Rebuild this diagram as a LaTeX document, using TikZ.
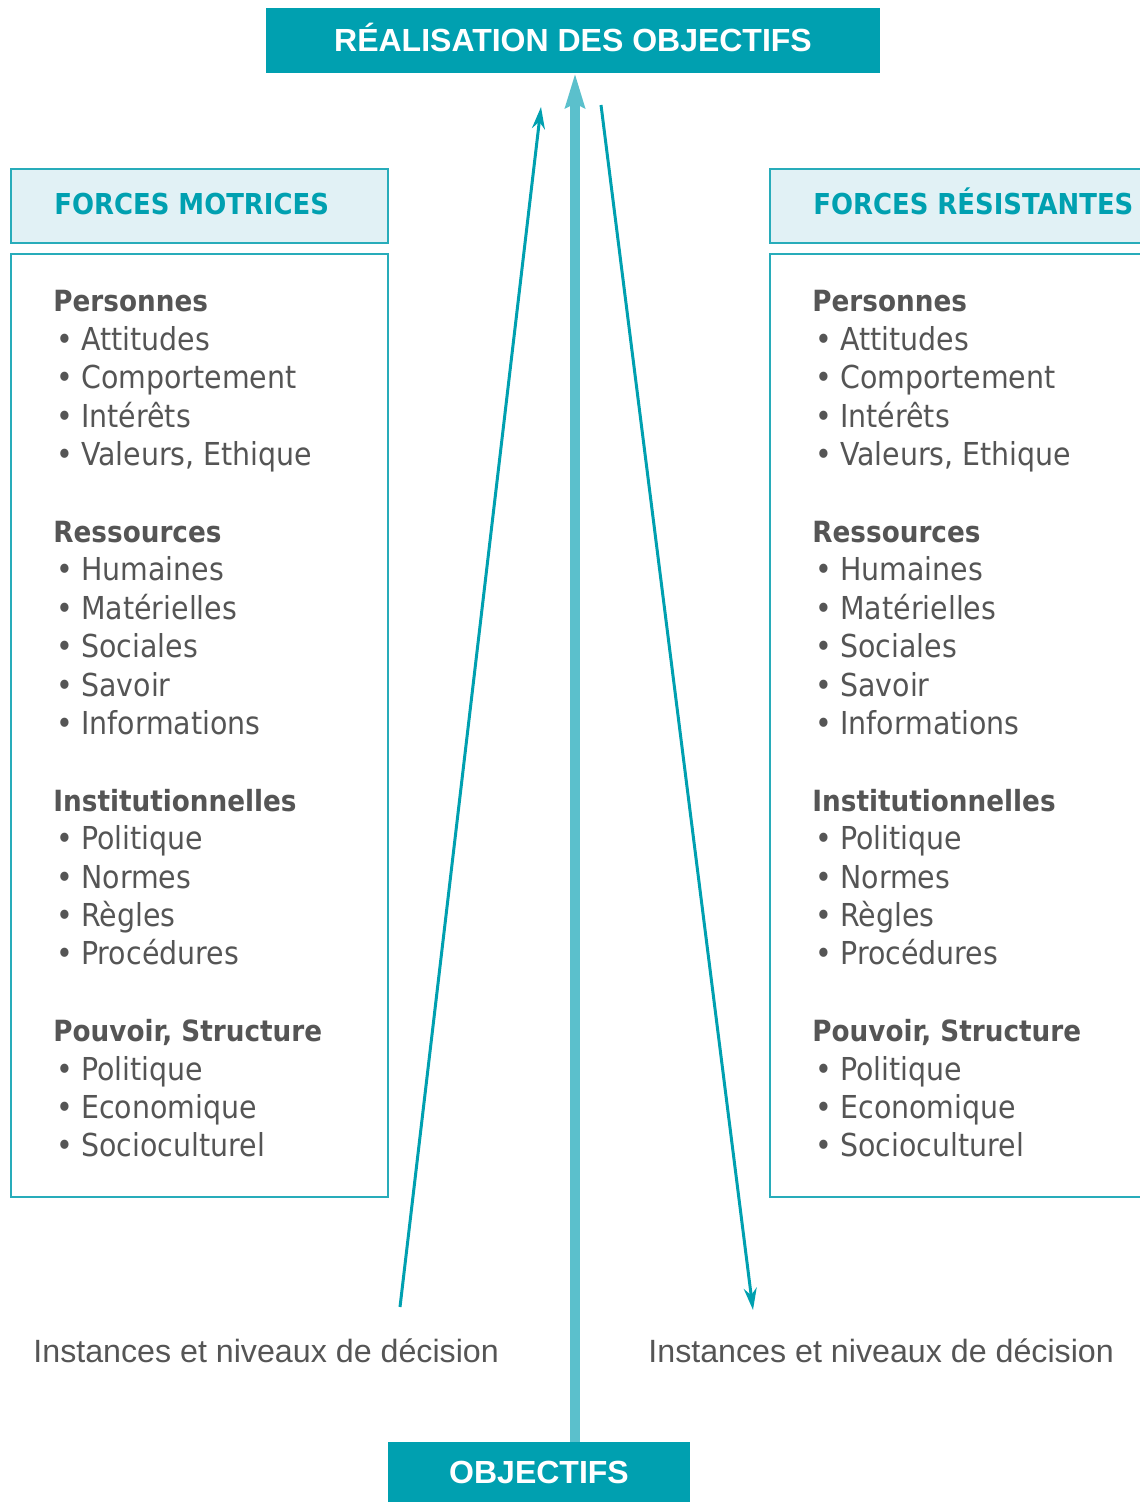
\documentclass[tikz,border=0pt]{standalone}
\usepackage{fontspec}
\setmainfont{DejaVu Sans Condensed}
\newfontfamily\helv{Liberation Sans}
\usetikzlibrary{arrows.meta}

\definecolor{petrol}{RGB}{0,160,176}
\definecolor{petrolline}{RGB}{40,172,186}
\definecolor{shaftblue}{RGB}{91,192,204}
\definecolor{headfill}{RGB}{225,241,245}
\definecolor{greytext}{RGB}{85,85,85}

% rows of both lists (row number / style / text)
\newcommand\forcelist{0/grouphead/Personnes, 1/bullet/Attitudes, 2/bullet/Comportement,
  3/bullet/Intérêts, 4/bullet/{Valeurs, Ethique},
  6/grouphead/Ressources, 7/bullet/Humaines, 8/bullet/Matérielles, 9/bullet/Sociales,
  10/bullet/Savoir, 11/bullet/Informations,
  13/grouphead/Institutionnelles, 14/bullet/Politique, 15/bullet/Normes, 16/bullet/Règles,
  17/bullet/Procédures,
  19/grouphead/{Pouvoir, Structure}, 20/bullet/Politique, 21/bullet/Economique,
  22/bullet/Socioculturel}

\begin{document}
\begin{tikzpicture}[x=0.5pt,y=-0.5pt,
    titlebox/.style={fill=petrol,text=white,inner sep=0pt,text height=11.5pt,text depth=0pt,
      font=\helv\bfseries\fontsize{16}{19}\selectfont},
    headbox/.style={draw=petrolline,fill=headfill,line width=1pt,inner sep=0pt,
      minimum width=188.5pt,minimum height=37pt},
    listbox/.style={draw=petrolline,line width=1pt,inner sep=0pt,
      minimum width=188.5pt,minimum height=471.5pt},
    headtxt/.style={anchor=base west,inner sep=0pt,text=petrol,
      font=\bfseries\fontsize{14.4}{17}\selectfont},
    listitem/.style={anchor=base west,inner sep=0pt,text=greytext,
      font=\fontsize{15.8}{18}\selectfont},
    grouphead/.style={listitem,font=\bfseries\fontsize{14.6}{18}\selectfont,xshift=-1.5pt},
    bullet/.style={listitem,execute at begin node={\makebox[12.5pt][l]{•}}},
    decision/.style={anchor=base west,inner sep=0pt,text=greytext,
      font=\helv\fontsize{16.1}{19}\selectfont},
    pusharrow/.style={petrol,line width=1.5pt,-{Stealth[length=11pt,width=6.5pt]}},
    mainarrow/.style={shaftblue,line width=5pt,-{Stealth[length=17pt,width=9.5pt,inset=2pt]}}]
  \useasboundingbox (0,0) rectangle (1139,1502);

  \node[titlebox,minimum width=307pt,minimum height=32.5pt] (goal) at (573,40.5) {RÉALISATION DES OBJECTIFS};
  \node[titlebox,minimum width=151pt,minimum height=30pt] (obj) at (539,1472) {OBJECTIFS};

  \foreach \side/\dx/\name in {mot/0/FORCES MOTRICES, res/759/FORCES RÉSISTANTES} {
    \node[headbox] (\side-head) at (199.5+\dx,206) {};
    \node[headtxt] (\side-title) at (54+\dx,215) {\name};
    \node[listbox] (\side-list) at (199.5+\dx,725.5) {};
    \foreach \row/\kind/\txt in \forcelist
      \node[\kind] (\side-\row) at (56+\dx,312+38.4*\row) {\txt};
  }

  \node[decision] (mot-level) at (33,1362) {Instances et niveaux de décision};
  \node[decision] (res-level) at (648,1362) {Instances et niveaux de décision};

  \coordinate (mot-foot) at (400,1307);
  \coordinate (mot-tip) at (541,107);
  \coordinate (res-foot) at (601,105);
  \coordinate (res-tip) at (753,1310);
  \draw[pusharrow] (mot-foot) -- (mot-tip);
  \draw[pusharrow] (res-foot) -- (res-tip);
  \draw[mainarrow] ([xshift=1pt]obj.north -| goal.south) -- ([xshift=1pt]goal.south);
\end{tikzpicture}
\end{document}
